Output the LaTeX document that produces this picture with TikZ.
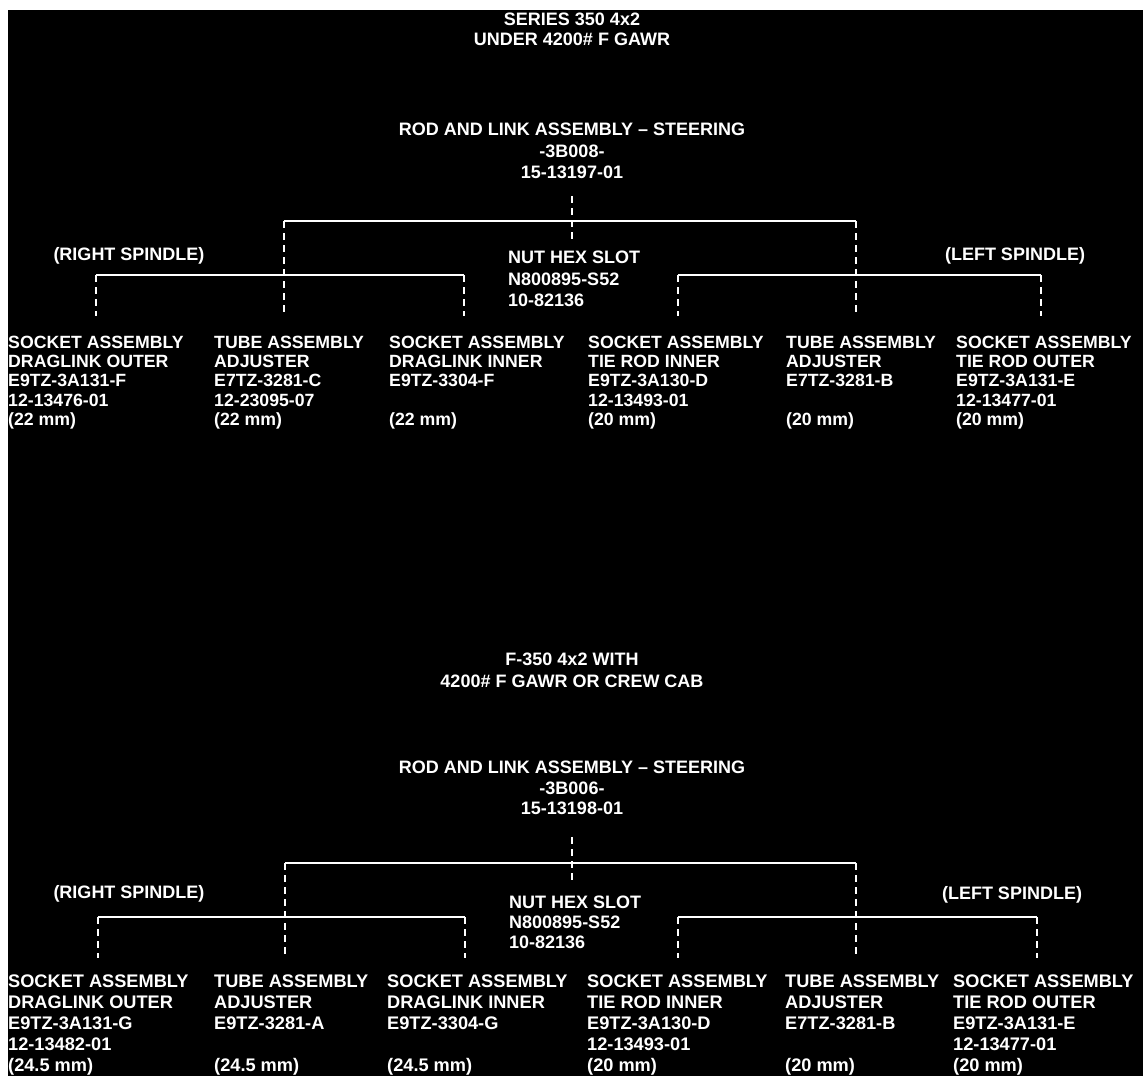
\documentclass[tikz,border=0pt]{standalone}
\usepackage{fontspec}
\setmainfont{Liberation Sans}
\usetikzlibrary{positioning}

\tikzstyle{head}=[align=center,anchor=north,inner sep=0pt,text=white,font=\fontsize{18}{20}\selectfont\bfseries]
\tikzstyle{assy}=[align=center,anchor=north,inner sep=0pt,text=white,font=\fontsize{18}{21.5}\selectfont\bfseries]
\tikzstyle{nutlbl}=[align=left,anchor=north west,inner sep=0pt,text=white,font=\fontsize{18}{21.5}\selectfont\bfseries]
\tikzstyle{spindle}=[anchor=base,inner sep=0pt,text=white,font=\fontsize{18}{20}\selectfont\bfseries]
\tikzstyle{part}=[align=left,anchor=north west,inner sep=0pt,text=white,font=\fontsize{17.7}{19.2}\selectfont\bfseries]
\tikzstyle{bar}=[white,line width=2pt]
\tikzstyle{link}=[white,line width=2pt,dash pattern=on 7pt off 5pt]

\begin{document}
\begin{tikzpicture}[x=1pt,y=-1pt]
\useasboundingbox (0,0) rectangle (1143,1076);
\fill[black] (8,10) rectangle (1143,1076);

% series 350, under 4200# F GAWR
\node(head1)[head] at (572,13) {SERIES 350 4x2\\UNDER 4200\# F GAWR};
\node(rod1)[assy] at (572,123) {ROD AND LINK ASSEMBLY – STEERING\\-3B008-\\15-13197-01};
\node(nut1)[nutlbl] at (508,251) {NUT HEX SLOT\\N800895-S52\\10-82136};
\node(rsp1)[spindle] at (129,260) {(RIGHT SPINDLE)};
\node(lsp1)[spindle] at (1015,260) {(LEFT SPINDLE)};
\node(dlo1)[part] at (8,336) {SOCKET ASSEMBLY\\DRAGLINK OUTER\\E9TZ-3A131-F\\12-13476-01\\(22 mm)};
\node(radj1)[part] at (214,336) {TUBE ASSEMBLY\\ADJUSTER\\E7TZ-3281-C\\12-23095-07\\(22 mm)};
\node(dli1)[part] at (389,336) {SOCKET ASSEMBLY\\DRAGLINK INNER\\E9TZ-3304-F\\ \mbox{}\\(22 mm)};
\node(tri1)[part] at (588,336) {SOCKET ASSEMBLY\\TIE ROD INNER\\E9TZ-3A130-D\\12-13493-01\\(20 mm)};
\node(ladj1)[part] at (786,336) {TUBE ASSEMBLY\\ADJUSTER\\E7TZ-3281-B\\ \mbox{}\\(20 mm)};
\node(tro1)[part] at (956,336) {SOCKET ASSEMBLY\\TIE ROD OUTER\\E9TZ-3A131-E\\12-13477-01\\(20 mm)};
\coordinate(ra1) at (284,221);
\coordinate(la1) at (856,221);
\coordinate(rs1) at (96,275);
\coordinate(re1) at (464,275);
\coordinate(ls1) at (678,275);
\coordinate(le1) at (1041,275);
\draw[link,shorten >=11pt]([yshift=-17pt]rod1.south)--(rod1.south|-nut1.north);
\draw[bar](ra1)--(la1);
\draw[bar](rs1)--(re1);
\draw[bar](ls1)--(le1);
\draw[link,shorten >=20pt](ra1)--(ra1|-radj1.north);
\draw[link,shorten >=20pt](la1)--(la1|-ladj1.north);
\draw[link,shorten >=20pt](rs1)--(rs1|-dlo1.north);
\draw[link,shorten >=20pt](re1)--(re1|-dli1.north);
\draw[link,shorten >=20pt](ls1)--(ls1|-tri1.north);
\draw[link,shorten >=20pt](le1)--(le1|-tro1.north);

% F-350 with 4200# F GAWR or crew cab
\node(head2)[head,font=\fontsize{18}{22}\selectfont\bfseries] at (572,653) {F-350 4x2 WITH\\4200\# F GAWR OR CREW CAB};
\node(rod2)[assy,font=\fontsize{18}{20.5}\selectfont\bfseries] at (572,761) {ROD AND LINK ASSEMBLY – STEERING\\-3B006-\\15-13198-01};
\node(nut2)[nutlbl,font=\fontsize{18}{20}\selectfont\bfseries] at (509,896) {NUT HEX SLOT\\N800895-S52\\10-82136};
\node(rsp2)[spindle] at (129,898) {(RIGHT SPINDLE)};
\node(lsp2)[spindle] at (1012,899) {(LEFT SPINDLE)};
\node(dlo2)[part,font=\fontsize{18.2}{21}\selectfont\bfseries] at (8,975) {SOCKET ASSEMBLY\\DRAGLINK OUTER\\E9TZ-3A131-G\\12-13482-01\\(24.5 mm)};
\node(radj2)[part,font=\fontsize{18.2}{21}\selectfont\bfseries] at (214,975) {TUBE ASSEMBLY\\ADJUSTER\\E9TZ-3281-A\\ \mbox{}\\(24.5 mm)};
\node(dli2)[part,font=\fontsize{18.2}{21}\selectfont\bfseries] at (387,975) {SOCKET ASSEMBLY\\DRAGLINK INNER\\E9TZ-3304-G\\ \mbox{}\\(24.5 mm)};
\node(tri2)[part,font=\fontsize{18.2}{21}\selectfont\bfseries] at (587,975) {SOCKET ASSEMBLY\\TIE ROD INNER\\E9TZ-3A130-D\\12-13493-01\\(20 mm)};
\node(ladj2)[part,font=\fontsize{18.2}{21}\selectfont\bfseries] at (785,975) {TUBE ASSEMBLY\\ADJUSTER\\E7TZ-3281-B\\ \mbox{}\\(20 mm)};
\node(tro2)[part,font=\fontsize{18.2}{21}\selectfont\bfseries] at (953,975) {SOCKET ASSEMBLY\\TIE ROD OUTER\\E9TZ-3A131-E\\12-13477-01\\(20 mm)};
\coordinate(ra2) at (285,863);
\coordinate(la2) at (856,863);
\coordinate(rs2) at (98,917);
\coordinate(re2) at (465,917);
\coordinate(ls2) at (678,917);
\coordinate(le2) at (1037,917);
\draw[link,shorten >=14pt]([yshift=-22pt]rod2.south)--(rod2.south|-nut2.north);
\draw[bar](ra2)--(la2);
\draw[bar](rs2)--(re2);
\draw[bar](ls2)--(le2);
\draw[link,shorten >=17pt](ra2)--(ra2|-radj2.north);
\draw[link,shorten >=17pt](la2)--(la2|-ladj2.north);
\draw[link,shorten >=17pt](rs2)--(rs2|-dlo2.north);
\draw[link,shorten >=17pt](re2)--(re2|-dli2.north);
\draw[link,shorten >=17pt](ls2)--(ls2|-tri2.north);
\draw[link,shorten >=17pt](le2)--(le2|-tro2.north);
\end{tikzpicture}
\end{document}
